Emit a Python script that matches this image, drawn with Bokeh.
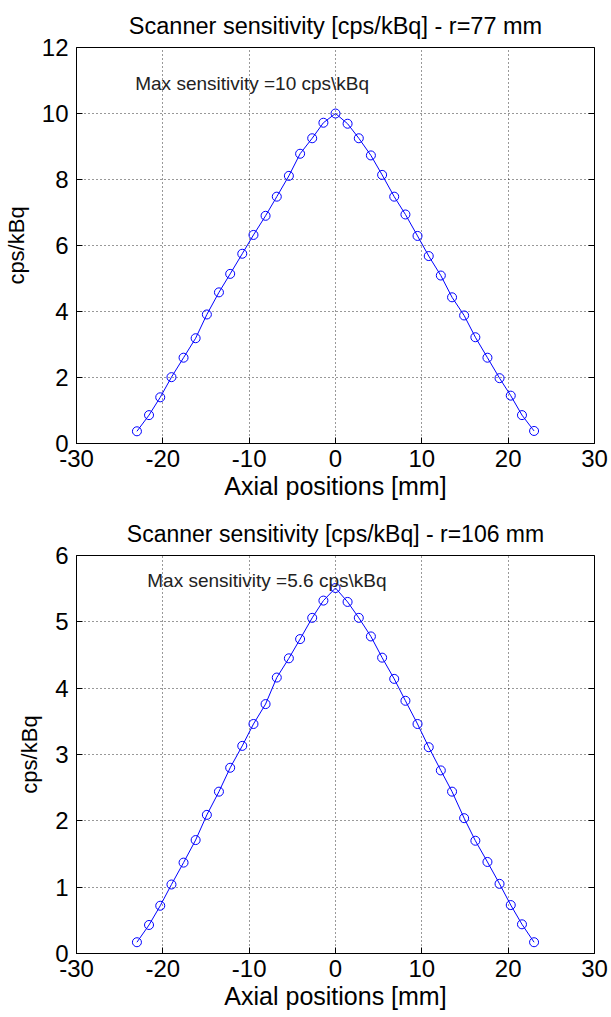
from bokeh.plotting import figure
from bokeh.layouts import column
from bokeh.models import Range1d, LinearAxis, FixedTicker, Label
from bokeh.embed import file_html
from bokeh.resources import INLINE

# ---- data ----
axial_mm = [-23.0, -21.6, -20.3, -19.0, -17.6, -16.2, -14.9, -13.5, -12.2, -10.8,
            -9.5, -8.1, -6.8, -5.4, -4.1, -2.7, -1.4, 0.0,
            1.4, 2.7, 4.1, 5.4, 6.8, 8.1, 9.5, 10.8, 12.2, 13.5,
            14.9, 16.2, 17.6, 19.0, 20.3, 21.6, 23.0]
sens_r77 = [0.37, 0.86, 1.40, 2.01, 2.60, 3.19, 3.91, 4.58, 5.14, 5.75,
            6.32, 6.90, 7.48, 8.11, 8.78, 9.25, 9.72, 10.0,
            9.69, 9.25, 8.73, 8.14, 7.48, 6.94, 6.29, 5.68, 5.09, 4.43,
            3.88, 3.22, 2.60, 1.98, 1.45, 0.86, 0.38]
sens_r106 = [0.17, 0.43, 0.72, 1.04, 1.37, 1.71, 2.09, 2.44, 2.80, 3.13,
             3.46, 3.76, 4.16, 4.45, 4.74, 5.06, 5.32, 5.51,
             5.30, 5.06, 4.78, 4.46, 4.14, 3.81, 3.46, 3.11, 2.76, 2.44,
             2.04, 1.70, 1.38, 1.05, 0.73, 0.44, 0.17]
x_ticks = [-30, -20, -10, 0, 10, 20, 30]
y_ticks_top = [0, 2, 4, 6, 8, 10, 12]
y_ticks_bottom = [0, 1, 2, 3, 4, 5, 6]
titles = ["Scanner sensitivity [cps/kBq] - r=77 mm",
          "Scanner sensitivity [cps/kBq] - r=106 mm"]
notes = ["Max sensitivity =10 cps\\kBq", "Max sensitivity =5.6 cps\\kBq"]
note_pos = [(-23.2, 10.9), (-21.8, 5.62)]

FONT = "Liberation Sans"
BLUE = "#0000FF"


def make_panel(y, yticks, ymax, title, note, npos, height, top, bottom, title_size, standoff):
    p = figure(width=611, height=height, output_backend="svg", toolbar_location=None,
               x_range=Range1d(-30, 30), y_range=Range1d(0, ymax),
               min_border_left=74, min_border_right=17,
               min_border_top=top, min_border_bottom=bottom,
               background_fill_color="white", border_fill_color="white")
    p.title.text = title
    p.title.align = "center"
    p.title.text_font = FONT
    p.title.text_font_size = title_size
    p.title.text_font_style = "normal"
    p.title.text_color = "black"
    p.title.standoff = standoff

    p.outline_line_color = "black"
    p.outline_line_width = 1

    for ax in (p.xaxis[0], p.yaxis[0]):
        ax.major_label_text_font = FONT
        ax.major_label_text_font_size = "24px"
        ax.major_label_text_color = "black"
        ax.axis_label_text_font = FONT
        ax.axis_label_text_font_style = "normal"
        ax.axis_label_text_color = "black"
        ax.major_tick_in = 6
        ax.major_tick_out = 0
        ax.minor_tick_line_color = None
        ax.axis_line_color = "black"
        ax.major_tick_line_color = "black"
    p.xaxis[0].ticker = FixedTicker(ticks=x_ticks)
    p.xaxis[0].major_label_overrides = {t: str(t) for t in x_ticks}
    p.yaxis[0].ticker = FixedTicker(ticks=yticks)
    p.xaxis[0].axis_label = "Axial positions [mm]"
    p.xaxis[0].axis_label_text_font_size = "25px"
    p.xaxis[0].axis_label_standoff = 2
    p.xaxis[0].major_label_standoff = 6
    p.yaxis[0].axis_label = "cps/kBq"
    p.yaxis[0].axis_label_text_font_size = "22px"
    p.yaxis[0].axis_label_standoff = 10
    p.yaxis[0].major_label_standoff = 8

    # inward ticks on the right edge (MATLAB box style), no labels drawn
    rax = LinearAxis(ticker=FixedTicker(ticks=yticks), major_label_text_font_size="1px",
                     major_label_text_color=None, major_label_text_alpha=0,
                     major_tick_in=6, major_tick_out=0, minor_tick_line_color=None,
                     axis_line_color=None, major_tick_line_color="black",
                     major_label_standoff=0)
    p.add_layout(rax, "right")

    p.xgrid.ticker = FixedTicker(ticks=x_ticks)
    p.ygrid.ticker = FixedTicker(ticks=yticks)
    for g in (p.xgrid[0], p.ygrid[0]):
        g.grid_line_color = "black"
        g.grid_line_alpha = 0.8
        g.grid_line_dash = "1 3"
        g.grid_line_width = 1

    p.line(axial_mm, y, line_color=BLUE, line_width=1)
    p.scatter(axial_mm, y, marker="circle", size=9, fill_color=None,
              line_color=BLUE, line_width=1)

    p.add_layout(Label(x=npos[0], y=npos[1], text=note, text_font=FONT,
                       text_font_size="19px", text_color="#222222",
                       text_baseline="alphabetic", text_align="left"))
    return p


p1 = make_panel(sens_r77, y_ticks_top, 12, titles[0], notes[0], note_pos[0],
                510, 47, 67, "23.5px", 18)
p2 = make_panel(sens_r106, y_ticks_bottom, 6, titles[1], notes[1], note_pos[1],
                507, 45, 64, "23px", 17)

layout = column(p1, p2, spacing=0)
open("out.html", "w").write(file_html(layout, INLINE))
